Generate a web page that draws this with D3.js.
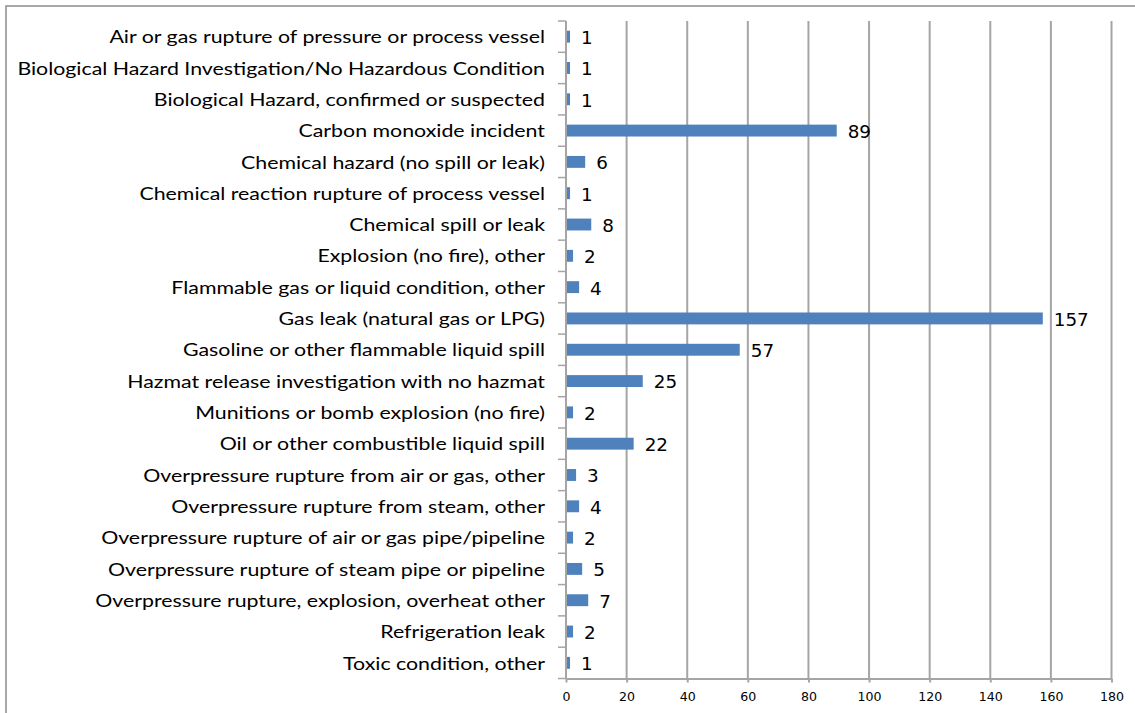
<!DOCTYPE html>
<html>
<head>
<meta charset="utf-8">
<script src="https://cdn.jsdelivr.net/npm/d3@7"></script>
<style>
html,body{margin:0;padding:0;background:#fff;}
svg{display:block;}
</style>
</head>
<body>
<svg id="chart" width="1135" height="713"></svg>
<script>
const categories = [
  "Air or gas rupture of pressure or process vessel",
  "Biological Hazard Investigation/No Hazardous Condition",
  "Biological Hazard, confirmed or suspected",
  "Carbon monoxide incident",
  "Chemical hazard (no spill or leak)",
  "Chemical reaction rupture of process vessel",
  "Chemical spill or leak",
  "Explosion (no fire), other",
  "Flammable gas or liquid condition, other",
  "Gas leak (natural gas or LPG)",
  "Gasoline or other flammable liquid spill",
  "Hazmat release investigation with no hazmat",
  "Munitions or bomb explosion (no fire)",
  "Oil or other combustible liquid spill",
  "Overpressure rupture from air or gas, other",
  "Overpressure rupture from steam, other",
  "Overpressure rupture of air or gas pipe/pipeline",
  "Overpressure rupture of steam pipe or pipeline",
  "Overpressure rupture, explosion, overheat other",
  "Refrigeration leak",
  "Toxic condition, other"
];
const values = [1,1,1,89,6,1,8,2,4,157,57,25,2,22,3,4,2,5,7,2,1];
const xTicks = [0,20,40,60,80,100,120,140,160,180];

const svg = d3.select("#chart");
const pL = 566, pR = 1111.5, pT = 21, pB = 678.5;
const x = d3.scaleLinear().domain([0,180]).range([pL,pR]);
const y = d3.scaleBand().domain(categories).range([pT,pB]).paddingInner(0.62).paddingOuter(0.31);
const yb = d3.scaleBand().domain(categories).range([pT,pB]);
const grid = "#a5a5a5";
const numFont = "'DejaVu Sans', sans-serif";

// horizontal stretch factor so the widest text hits a target width
function stretchFor(sel, target){
  let w = 0; sel.each(function(){ w = Math.max(w, this.getComputedTextLength()); });
  return target / w;
}

// outer border
svg.append("rect").attr("x",6).attr("y",6).attr("width",1160).attr("height",740)
  .attr("fill","none").attr("stroke","#8c8c8c").attr("stroke-width",1.5);

// gridlines
svg.append("g").selectAll("line").data(xTicks.slice(1)).join("line")
  .attr("x1",d=>x(d)).attr("x2",d=>x(d)).attr("y1",pT).attr("y2",pB)
  .attr("stroke",grid).attr("stroke-width",2);

// x axis
const xAxis = svg.append("g").attr("transform",`translate(0,${pB})`)
  .call(d3.axisBottom(x).tickValues(xTicks).tickSize(4).tickPadding(10).tickSizeOuter(0));
xAxis.select(".domain").attr("stroke",grid).attr("stroke-width",2);
xAxis.selectAll(".tick line").attr("stroke",grid).attr("stroke-width",2);
const tickText = xAxis.selectAll("text").style("font-family",numFont).style("font-size","11.5px").attr("fill","#000");
const sT = stretchFor(tickText, 24);
tickText.attr("transform",`scale(${sT},1)`);

// y axis line and ticks at band boundaries
svg.append("line").attr("x1",pL).attr("x2",pL).attr("y1",pT).attr("y2",pB)
  .attr("stroke",grid).attr("stroke-width",2);
const bounds = categories.map(c=>yb(c)).concat([pB]);
svg.append("g").selectAll("line").data(bounds).join("line")
  .attr("x1",pL-8).attr("x2",pL).attr("y1",d=>d).attr("y2",d=>d)
  .attr("stroke",grid).attr("stroke-width",1.5);

// bars
svg.append("g").selectAll("rect").data(values).join("rect")
  .attr("x",x(0)+1).attr("y",(d,i)=>y(categories[i]))
  .attr("width",d=>x(d)-x(0)).attr("height",y.bandwidth())
  .attr("fill","#4f81bd");

// value labels
const valText = svg.append("g").selectAll("text").data(values).join("text")
  .attr("x",0).attr("y",0)
  .attr("dominant-baseline","middle")
  .style("font-family",numFont).style("font-size","17.5px").attr("fill","#000")
  .text(d=>d);
const sV = stretchFor(valText, 35);
valText.attr("transform",(d,i)=>`translate(${x(d)+12},${yb(categories[i])+yb.bandwidth()/2+2.5}) scale(${sV},1)`);

// category labels
const lab = svg.append("g").selectAll("text").data(categories).join("text")
  .attr("x",0).attr("y",0)
  .attr("text-anchor","end").attr("dominant-baseline","middle")
  .style("font-family","Lato").style("font-size","16.5px").attr("fill","#000")
  .text(d=>d);
const sL = stretchFor(lab, 528);
lab.attr("transform",d=>`translate(545,${yb(d)+yb.bandwidth()/2+2.5}) scale(${sL},1)`);
</script>
</body>
</html>
